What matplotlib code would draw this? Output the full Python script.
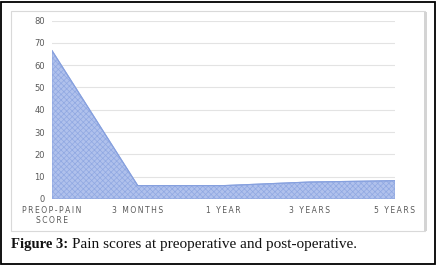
import matplotlib
matplotlib.use("Agg")
import matplotlib.pyplot as plt
from matplotlib.patches import Rectangle

categories = ["PREOP-PAIN\nSCORE", "3 MONTHS", "1 YEAR", "3 YEARS", "5 YEARS"]
pain_scores = [66.5, 6.0, 6.0, 7.6, 8.2]
y_ticks = [0, 10, 20, 30, 40, 50, 60, 70, 80]

W, H = 439, 265
fig = plt.figure(figsize=(W / 100, H / 100), dpi=100)
fig.patch.set_facecolor("white")

# outer black border
fig.patches.append(Rectangle((1.5 / W, 1.5 / H), (435 - 1.5) / W, (263 - 1.5) / H,
                             transform=fig.transFigure, fill=False,
                             edgecolor="black", linewidth=1.3))
# inner chart box
fig.patches.append(Rectangle((11 / W, 1 - 230.5 / H), (425 - 11) / W, (230.5 - 11) / H,
                             transform=fig.transFigure, fill=False,
                             edgecolor="#d9d9d9", linewidth=0.8))
# right shadow
fig.patches.append(Rectangle((424 / W, 1 - 231 / H), 3 / W, (231 - 12) / H,
                             transform=fig.transFigure, facecolor="#d4d4d4",
                             edgecolor="none"))

ax = fig.add_axes([52 / W, 1 - 199 / H, (395 - 52) / W, (199 - 20.5) / H])
x = list(range(len(categories)))
plt.rcParams['hatch.linewidth'] = 0.5
ax.fill_between(x, 0, pain_scores, facecolor="#b0c1ec", edgecolor="#90a8e2",
                hatch="xxxxxx", linewidth=0.8, zorder=2)
ax.plot(x, pain_scores, color="#86a0de", linewidth=0.8, zorder=3)

ax.set_xlim(0, len(categories) - 1)
ax.set_ylim(0, 80)
ax.set_yticks(y_ticks)
ax.set_yticklabels([str(v) for v in y_ticks], color="#595959", fontsize=6)
ax.set_xticks(x)
spaced = ["\u2009".join(list(c)).replace("\u2009\n\u2009", "\n") for c in categories]
ax.set_xticklabels(spaced, color="#595959", fontsize=5.5, linespacing=1.15)
ax.tick_params(axis="both", length=0)
ax.tick_params(axis="y", pad=5)
ax.tick_params(axis="x", pad=5)
ax.grid(axis="y", color="#e3e3e3", linewidth=0.8, zorder=0)
ax.set_axisbelow(True)
for s in ax.spines.values():
    s.set_visible(False)

t1 = fig.text(11 / W, 1 - 248 / H, "Figure 3:", fontsize=10.5, fontweight="bold",
              family="Liberation Serif", color="#111111", va="baseline", ha="left")
fig.canvas.draw()
bb = t1.get_window_extent()
fig.text((bb.x1 + 4) / W, 1 - 248 / H, "Pain scores at preoperative and post-operative.",
         fontsize=11.0, family="Liberation Serif", color="#111111",
         va="baseline", ha="left")

fig.savefig("out.png", dpi=100, facecolor="white")
